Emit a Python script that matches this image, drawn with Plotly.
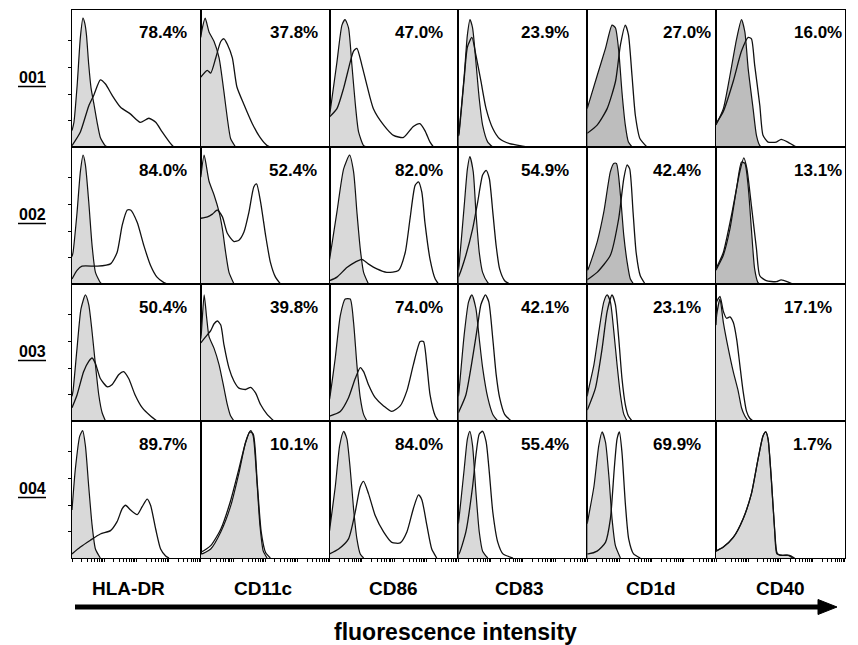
import math
import plotly.graph_objects as go

# ---------------- data ----------------
samples = ["001", "002", "003", "004"]
markers = ["HLA-DR", "CD11c", "CD86", "CD83", "CD1d", "CD40"]

# percent positive, per sample, in marker order
pct_001 = [78.4, 37.8, 47.0, 23.9, 27.0, 16.0]
pct_002 = [84.0, 52.4, 82.0, 54.9, 42.4, 13.1]
pct_003 = [50.4, 39.8, 74.0, 42.1, 23.1, 17.1]
pct_004 = [89.7, 10.1, 84.0, 55.4, 69.9, 1.7]

# histogram outlines: (relative log fluorescence 0-100, relative count 0-100)
# isotype control (grey filled) per sample, in marker order
iso_001 = [
    [(0,12),(1.5,18),(4,45),(6.5,80),(8.5,94),(10,90),(11.2,82),(13,60),(14.8,43),(16.9,32),(19.5,18),(22,7),(26,0.7),(29,0)],
    [(0,80),(0.8,85),(3.4,94),(6.4,84),(10.3,77),(14.2,65),(18,40),(20.6,21),(23.2,6),(27,0)],
    [(0,23),(5.7,62),(9.6,89),(12,93),(14.7,87),(17.3,60),(20,31),(22.5,11),(26.4,1),(29,0)],
    [(0,8),(0.5,11),(4.5,52),(7,82),(9,93),(11,87),(13.6,62),(16.2,35),(18.8,16),(22.8,3.6),(26.7,0)],
    [(0,28),(7.7,52),(14.2,72),(19.3,89),(21.9,87),(24.5,70),(27,40),(29.6,16),(32,3.6),(34.8,0)],
    [(0,16),(5.7,28),(10.8,52),(16,79),(19.8,93),(22.4,84),(25,57),(28.8,28),(31.4,8.5),(34,1),(35.2,0)],
]
iso_002 = [
    [(0,20),(0.8,23),(3.9,52),(6.5,82),(8.6,94),(10.4,87),(13,60),(15.6,28),(18.2,8.5),(22,1),(23.4,0)],
    [(0,78),(2.6,94),(6.4,75),(10.3,65),(14.2,52.6),(16.8,40),(19.3,23),(21.9,8.5),(25.8,0)],
    [(0,18),(0.5,21),(5.7,52.6),(10.9,84),(15.5,94),(18.6,82),(21.2,52.6),(23.8,25.7),(26.4,8.5),(30.2,0)],
    [(0,10),(0.5,13.5),(4.5,57),(7,84),(8.9,93),(11.5,82),(13.6,52.6),(16.2,23),(18.8,8.5),(22.8,1),(24,0)],
    [(0,10),(0.8,11),(7.7,30.5),(12.9,52.6),(18,82),(20.6,88),(22.7,88),(25.8,65),(28.4,35.5),(31,16),(33.5,3.6),(36,0)],
    [(0,10),(0.5,11),(5.7,21),(10.8,40),(16,70),(19.8,89),(22.4,88),(25,71),(27.5,40),(30,11),(32.6,1),(34,0)],
]
iso_003 = [
    [(0,18),(0.8,22),(3.9,53),(7,82),(10.4,92),(13,85),(15.6,65),(18.2,41),(20.8,19),(23.4,6),(26,0)],
    [(0,60),(0.5,65),(2.6,92),(4.6,75),(6.4,61.6),(10.3,53),(14.2,41),(18,24),(20.6,12),(23.2,3.6),(25.8,0)],
    [(0,16),(0.5,19),(4.4,46),(8.3,77),(12.1,89),(16,89),(18.6,72),(21.2,41),(23.8,17),(26.4,4.8),(29,0)],
    [(0,18),(0.5,22),(4.5,63),(7.9,87),(10.5,92),(13.6,82),(16.2,60),(18.8,39),(22.8,17),(26.7,4.8),(30.6,0)],
    [(0,18),(0.8,22),(5.2,41),(9,65),(12.9,87),(15.5,92),(18,87),(20.6,66),(23.2,41),(25.8,19),(28.4,5),(31,0)],
    [(0,70),(0.5,77),(3.1,89),(5.7,72),(9.5,53),(13.4,36),(17.2,22),(19.8,9.7),(22.4,3.6),(25,0)],
]
iso_004 = [
    [(0,35),(2.6,65),(6,89),(8.3,93),(10.4,82),(13,52),(15.6,24),(18.2,6.6),(22,0)],
    [(0,3),(0.8,3),(7.7,6.6),(15.5,19),(23.2,38),(29.6,62),(34.8,84.5),(38.7,93),(40.7,89),(43.3,60),(45.9,24),(48.5,5),(51.5,0)],
    [(0,20),(0.5,24),(4.4,52),(7.8,82),(10.9,92.5),(13.4,87),(16,65),(18.6,36),(21.2,14),(23.8,3),(26.4,0)],
    [(0,25),(0.5,29),(4.5,65),(7,87),(8.9,92.5),(11,82),(13.6,48),(16.2,19),(18.8,5),(22.8,0)],
    [(0,25),(0.8,29),(5.2,52),(9,82),(11.6,92),(14.2,84.5),(16.8,60),(19.3,28.5),(21.9,9),(25.8,0)],
    [(0,5),(5.7,8),(13.4,15),(21,28.5),(27.5,47),(32.6,72),(36.5,89),(38.6,92),(40.4,87),(43,57),(45.5,21),(47.3,4),(49.4,2),(55.8,2),(59.6,0)],
]

# specific antibody staining (open line) per sample, in marker order
stain_001 = [
    [(0,1),(6.5,11),(13,30),(17,38),(22,49),(26,46),(31,38),(37.7,29),(45.5,24),(53,18),(59.7,21),(65,18),(70,11),(76.6,2.4),(79,0)],
    [(0,51),(5,56),(7.7,54),(11.6,65),(15.5,77),(18,79),(20.6,75),(24.5,65),(28,44),(33.5,31),(40,17),(46,7),(51.5,1),(54,0)],
    [(0,22),(5.7,28),(10.9,43),(16,62),(18.6,70),(21.2,72),(25,60),(29,45),(34,28),(42,16),(49.6,8.5),(57.4,7),(65,15),(70,17),(74,12),(78,3.6),(80.6,0)],
    [(0,8),(0.5,10),(4.5,50),(7,73),(10.5,80),(13.6,67),(17.5,48),(21.5,28),(26.7,13.5),(32,6),(39.8,2.4),(50,0.7),(55.5,0)],
    [(0,10),(7.7,16),(15.5,28),(22,48),(25.8,74.5),(29.6,89),(32,82),(34.8,52),(37.4,23),(41,6),(46.4,0)],
    [(0,17),(5.7,26),(13.4,48),(19.8,70),(25,80),(27.5,79),(30,60),(34,30.5),(36.5,8.5),(40.4,3.6),(46.8,3.6),(50.6,5.6),(55.8,3.6),(61,0.7),(63.5,0)],
]
stain_002 = [
    [(0,3.6),(3.9,10),(7.8,13),(19.5,13),(29.9,14.7),(35,23),(39,43),(42.9,54),(45.5,54),(50.6,45),(55.8,28),(61,13.5),(66,5),(71.4,1),(74,0)],
    [(0,48),(5.2,49),(9,51),(12.9,54),(16.8,49),(20.6,37),(25.8,31),(29.6,32),(33.5,38),(37.4,52.6),(41.2,71),(43.3,73),(46.4,60),(50.3,35.5),(54,16),(58,5),(61.9,0)],
    [(0,2.4),(5.7,5),(13.4,12),(19.9,16),(25,18),(30,14.7),(36.7,11),(44.4,8.5),(53.5,9.8),(58.7,23),(62.5,48),(66.4,72),(69,74.5),(71.6,67),(74,45),(78,18),(82,3.6),(84.5,0)],
    [(0,5),(0.5,6),(5.8,21),(11,40),(15,60),(18.8,79.5),(21.5,83),(24,77),(26.7,52.6),(29.3,28),(32,11),(35.9,2.4),(39.8,0)],
    [(0,3),(0.8,3.6),(7.7,8.5),(18,21),(24.5,48),(28.4,77),(31,87),(33,84),(35.6,52.6),(38,23),(41.2,6),(45,0)],
    [(0,11),(0.5,12),(5.7,23),(12,50),(18.5,82),(21.6,92),(24,84),(27.5,57),(31.4,25.7),(34,6),(39,2.4),(46.8,1.7),(50.6,3),(57,1),(59.6,0)],
]
stain_003 = [
    [(0,9.7),(3.9,19),(9,36),(13,43.5),(15.6,46),(18.2,42),(22,31),(27.3,25),(31,26.5),(36.4,34),(40,36),(44,31),(49,19),(54.5,9.7),(61,3.6),(66,0)],
    [(0,57),(0.8,58),(3.9,61.6),(7.7,66),(10.3,71),(12.9,73),(15.5,70),(18,55.5),(21.9,38.6),(25.8,29),(29.6,24),(34.8,23),(38.7,24.6),(42.5,20.5),(46.4,12),(51.5,4.8),(56.7,0)],
    [(0,3.6),(8.3,7),(14.7,17),(19.9,31),(23.8,39),(26.4,36),(30.2,26.5),(35.4,17),(41.9,11),(48.3,7),(54.8,11),(60,22),(65,41),(70.3,58),(72.9,58),(75.5,41),(78,19),(82,3.6),(84.5,0)],
    [(0,6),(0.5,7),(5.8,19),(11,46),(15,70),(17.5,85),(21,92),(23.6,87),(26.7,60),(29.3,34),(32,17),(35.9,4.8),(41,0)],
    [(0,8),(0.8,9.7),(6.4,24),(11.6,53),(15.5,80),(19.3,92),(21.9,85),(24.5,60),(27,31),(29.6,12),(32,3.6),(34.8,0)],
    [(0,84),(0.5,87),(3.1,91),(5.7,80),(8.2,75),(10.8,76),(13.4,72),(16,60),(18.5,41),(21,22),(23.7,7),(26.2,2),(28.8,0)],
]
stain_004 = [
    [(0,3),(6.5,8),(14.3,13),(22,17.5),(29.9,20),(35,26.5),(39,36),(41.6,38.5),(45.5,35),(50.6,31.6),(54.5,37.5),(58.4,43),(61,38.5),(65,21),(68.8,6.6),(72.7,1.5),(75.3,0)],
    [(0,4.6),(0.8,4.6),(7.7,9),(15.5,21),(23.2,42),(29.6,65),(34.8,84.5),(38,92),(40.7,90.5),(43.8,55),(46.9,19),(50.3,4),(54,0)],
    [(0,3),(7,6.6),(14.7,14),(19.9,33.6),(23.8,52),(26.4,56),(30.2,47),(35.4,31),(41.9,19),(48.3,11.4),(54.8,11),(60,19),(65,36),(69,46),(71.6,42.6),(75.5,24),(79.3,6.6),(83.2,0)],
    [(0,3),(0.5,3),(5.8,19),(11,52),(13.6,75),(16.2,90.5),(18.8,92.5),(21.5,85),(24,62.5),(26.7,33.6),(30.6,11.4),(34.6,3),(42.4,0)],
    [(0,3),(0.8,3),(7.7,5),(14.2,11.4),(18,28.5),(21,65),(23.2,87),(25,92),(27,77),(29.6,40),(32.2,14),(36,3),(41.2,0)],
    [(0,5),(5.7,8),(13.4,15),(21,28.5),(27.5,47),(32.6,72),(36.5,89),(38.6,92),(40.4,87),(43,57),(45.5,21),(47.3,3),(51,2),(57,2),(61,0)],
]

pcts = [pct_001, pct_002, pct_003, pct_004]
isos = [iso_001, iso_002, iso_003, iso_004]
stains = [stain_001, stain_002, stain_003, stain_004]

# ---------------- layout / style ----------------
W, H = 858, 645
COL_LEFT, COL_W = 72.0, 128.8
ROW_TOP, ROW_H = 10.0, 137.0
FONT = "Liberation Sans, Arial, Helvetica, sans-serif"

# right padding (px) of the percentage label in each panel
pct_pad = [[12, 10, 13, 16, 3, 1],
           [12, 11, 13, 16, 13, 1],
           [12, 10, 13, 16, 13, 11],
           [12, 10, 13, 16, 13, 11]]
grey_light = "#d9d9d9"
grey_dark = "#bdbdbd"
dark_panels = {(0, 4), (0, 5), (1, 4), (1, 5)}

def px(x):
    return x / W

def py(y):
    return 1 - y / H

# log-decade tick positions along the bottom (4 decades over 0-100)
log_ticks = [25 * (d + math.log10(k)) for d in range(4) for k in range(1, 10)] + [100]

fig = go.Figure()
layout = {}
annotations = []
shapes = []

n = 0
for r in range(4):
    for c in range(6):
        n += 1
        xa = "x" if n == 1 else f"x{n}"
        ya = "y" if n == 1 else f"y{n}"
        x0 = COL_LEFT + c * COL_W
        y0 = ROW_TOP + r * ROW_H
        xaxis = dict(domain=[px(x0), px(x0 + COL_W)], range=[0, 100], anchor=ya,
                     showgrid=False, zeroline=False, showticklabels=False,
                     showline=True, mirror=True, linecolor="black", linewidth=1.3,
                     fixedrange=True)
        yaxis = dict(domain=[py(y0 + ROW_H), py(y0)], range=[0, 100], anchor=xa,
                     showgrid=False, zeroline=False, showticklabels=False,
                     showline=True, mirror=True, linecolor="black", linewidth=1.3,
                     fixedrange=True)
        if r == 3:
            xaxis.update(ticks="outside", tickvals=log_ticks, ticklen=3,
                         tickwidth=0.8, tickcolor="black")
        if c == 0:
            yaxis.update(ticks="outside", tickvals=[19, 38.5, 58, 77.5], ticklen=3,
                         tickwidth=0.8, tickcolor="black")
        key = "" if n == 1 else str(n)
        layout["xaxis" + key] = xaxis
        layout["yaxis" + key] = yaxis

        iso = isos[r][c]
        st = stains[r][c]
        fill = grey_dark if (r, c) in dark_panels else grey_light
        fig.add_trace(go.Scatter(
            x=[p[0] for p in iso], y=[p[1] for p in iso], xaxis=xa, yaxis=ya,
            mode="lines", line=dict(color="#111111", width=1.2, shape="spline", smoothing=0.6),
            fill="tozeroy", fillcolor=fill, hoverinfo="skip", showlegend=False))
        fig.add_trace(go.Scatter(
            x=[p[0] for p in st], y=[p[1] for p in st], xaxis=xa, yaxis=ya,
            mode="lines", line=dict(color="#111111", width=1.3, shape="spline", smoothing=0.6),
            hoverinfo="skip", showlegend=False))

        annotations.append(dict(
            xref="paper", yref="paper", x=px(x0 + COL_W - pct_pad[r][c]), y=py(y0 + 23),
            xanchor="right", yanchor="middle", showarrow=False,
            text=f"<b>{pcts[r][c]:.1f}%</b>",
            font=dict(family=FONT, size=17, color="black")))

# row labels (underlined)
for r, s in enumerate(samples):
    yc = ROW_TOP + r * ROW_H + ROW_H / 2 - 1
    annotations.append(dict(xref="paper", yref="paper", x=px(32), y=py(yc),
                            xanchor="center", yanchor="middle", showarrow=False,
                            text=f"<b>{s}</b>", font=dict(family=FONT, size=16, color="black")))
    shapes.append(dict(type="line", xref="paper", yref="paper",
                       x0=px(18), x1=px(46), y0=py(yc + 9), y1=py(yc + 9),
                       line=dict(color="black", width=1.5)))

# column labels
label_dx = [-8, -2, -1, -3, -1, 0]
for c, m in enumerate(markers):
    annotations.append(dict(xref="paper", yref="paper",
                            x=px(COL_LEFT + c * COL_W + COL_W / 2 + label_dx[c]),
                            y=py(588), xanchor="center", yanchor="middle", showarrow=False,
                            text=f"<b>{m}</b>", font=dict(family=FONT, size=19, color="black")))

# arrow and axis title
shapes.append(dict(type="line", xref="paper", yref="paper", x0=px(75), x1=px(822),
                   y0=py(607), y1=py(607), line=dict(color="black", width=5)))
shapes.append(dict(type="path", xref="paper", yref="paper",
                   path=f"M {px(818)} {py(599.5)} L {px(837)} {py(607)} L {px(818)} {py(614.5)} Z",
                   fillcolor="black", line=dict(color="black", width=1)))
annotations.append(dict(xref="paper", yref="paper", x=px(455), y=py(632),
                        xanchor="center", yanchor="middle", showarrow=False,
                        text="<b>fluorescence intensity</b>",
                        font=dict(family=FONT, size=23, color="black")))

fig.update_layout(width=W, height=H, margin=dict(l=0, r=0, t=0, b=0),
                  paper_bgcolor="white", plot_bgcolor="white",
                  annotations=annotations, shapes=shapes, **layout)

fig.write_html("out.html", include_plotlyjs=True, config={"displayModeBar": False},
               post_script="document.body.style.margin='0';document.body.style.padding='0';")
